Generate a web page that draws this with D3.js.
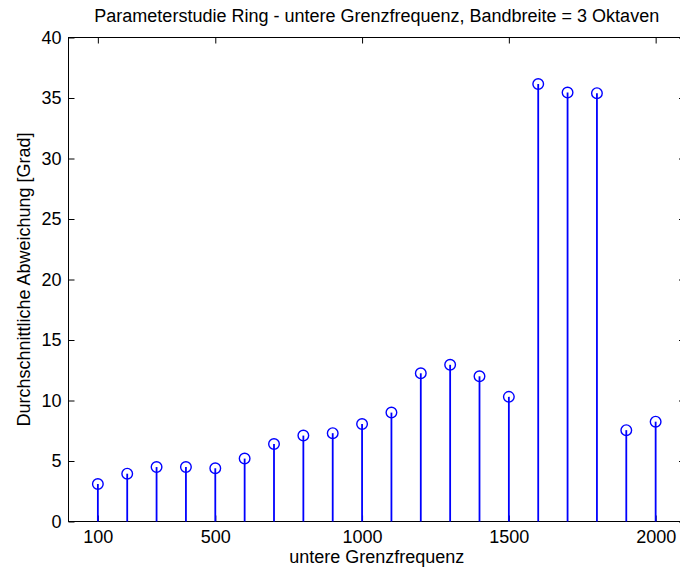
<!DOCTYPE html>
<html>
<head>
<meta charset="utf-8">
<script src="https://cdn.jsdelivr.net/npm/d3@7/dist/d3.min.js"></script>
<style>
  html, body { margin: 0; padding: 0; background: #fff; }
  svg { display: block; }
  text { font-family: "Liberation Sans", Arial, sans-serif; fill: #000; }
</style>
</head>
<body>
<svg id="chart" width="680" height="573"></svg>
<script>
// Lower cut-off frequency (Hz) of each run
const frequencies = [100, 200, 300, 400, 500, 600, 700, 800, 900, 1000,
                     1100, 1200, 1300, 1400, 1500, 1600, 1700, 1800, 1900, 2000];
// Mean deviation in degrees for each run
const deviations = [3.1, 3.95, 4.5, 4.5, 4.4, 5.2, 6.4, 7.1, 7.3, 8.05,
                    9.0, 12.25, 12.95, 12.0, 10.3, 36.15, 35.45, 35.4, 7.55, 8.25];
const xTickValues = [100, 500, 1000, 1500, 2000];
const yTickValues = [0, 5, 10, 15, 20, 25, 30, 35, 40];

const titleText = "Parameterstudie Ring - untere Grenzfrequenz, Bandbreite = 3 Oktaven";
const xLabelText = "untere Grenzfrequenz";
const yLabelText = "Durchschnittliche Abweichung [Grad]";

const svg = d3.select("#chart");
const m = { left: 68.5, right: 685, top: 37.5, bottom: 521.5 };

const x = d3.scaleLinear().domain([0, 2100]).range([m.left, m.right]);
const y = d3.scaleLinear().domain([0, 40]).range([m.bottom, m.top]);

const stemColor = "#0000ff";
const fontSize = 18;
const fontFamily = "Liberation Sans, Arial, sans-serif";
const tickLen = 6;

// frame of the axes box
svg.append("rect")
  .attr("x", m.left).attr("y", m.top)
  .attr("width", m.right - m.left).attr("height", m.bottom - m.top)
  .attr("fill", "none").attr("stroke", "#000").attr("stroke-width", 1);

// bottom axis with inward ticks
const xAxisBottom = d3.axisBottom(x).tickValues(xTickValues).tickSize(-tickLen).tickPadding(9).tickFormat(d3.format("d"));
svg.append("g").attr("transform", `translate(0,${m.bottom})`).call(xAxisBottom)
  .call(g => g.select(".domain").remove())
  .call(g => g.selectAll("text").attr("font-size", fontSize).attr("font-family", fontFamily).attr("fill", "#000"));

// top axis: ticks only
const xAxisTop = d3.axisTop(x).tickValues(xTickValues).tickSize(-tickLen).tickFormat("");
svg.append("g").attr("transform", `translate(0,${m.top})`).call(xAxisTop)
  .call(g => g.select(".domain").remove());

// left axis with inward ticks
const yAxisLeft = d3.axisLeft(y).tickValues(yTickValues).tickSize(-tickLen).tickPadding(7).tickFormat(d3.format("d"));
svg.append("g").attr("transform", `translate(${m.left},0)`).call(yAxisLeft)
  .call(g => g.select(".domain").remove())
  .call(g => g.selectAll("text").attr("font-size", fontSize).attr("font-family", fontFamily).attr("fill", "#000"));

// right axis: ticks only
const yAxisRight = d3.axisRight(y).tickValues(yTickValues).tickSize(-tickLen).tickFormat("");
svg.append("g").attr("transform", `translate(${m.right},0)`).call(yAxisRight)
  .call(g => g.select(".domain").remove());

// stems
svg.append("g").selectAll("line")
  .data(frequencies)
  .join("line")
  .attr("x1", d => x(d)).attr("x2", d => x(d))
  .attr("y1", y(0))
  .attr("y2", (d, i) => y(deviations[i]))
  .attr("stroke", stemColor).attr("stroke-width", 1.8);

// open circle markers
svg.append("g").selectAll("circle")
  .data(frequencies)
  .join("circle")
  .attr("cx", d => x(d))
  .attr("cy", (d, i) => y(deviations[i]))
  .attr("r", 5.3)
  .attr("fill", "none").attr("stroke", stemColor).attr("stroke-width", 1.4);

// title
svg.append("text")
  .attr("x", (m.left + m.right) / 2).attr("y", 22)
  .attr("text-anchor", "middle").attr("font-size", fontSize)
  .text(titleText);

// x label
svg.append("text")
  .attr("x", (m.left + m.right) / 2).attr("y", 563)
  .attr("text-anchor", "middle").attr("font-size", fontSize)
  .text(xLabelText);

// y label
svg.append("text")
  .attr("transform", `translate(30,${(m.top + m.bottom) / 2}) rotate(-90)`)
  .attr("text-anchor", "middle").attr("font-size", fontSize)
  .text(yLabelText);
</script>
</body>
</html>
